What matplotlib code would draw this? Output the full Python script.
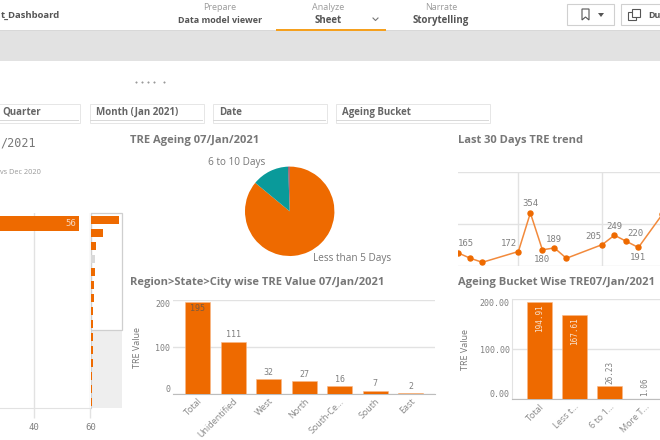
import matplotlib
matplotlib.use("Agg")
import matplotlib.pyplot as plt
from matplotlib.patches import Rectangle, Polygon

# ---------- data ----------
rank_values = [56, 23, 10, 8, 8, 6.6, 6, 3.3, 3.3, 3.3, 3, 3, 2.8, 2.6, 2.6]
rank_colors_gray_index = 3
rank_ticks = [40, 60]

pie_labels = ["Less than 5 Days", "6 to 10 Days", "More than 10 Days"]
pie_values = [167.61, 26.23, 1.06]

trend_days = [0, 1, 2, 5, 6, 7, 8, 9, 12, 13, 14, 15, 17]
trend_values = [165, 140, 121, 172, 354, 180, 189, 140, 205, 249, 220, 191, 348]
trend_labels = ["165", "", "", "172", "354", "180", "189", "", "205", "249", "220", "191", ""]

region_names = ["Total", "Unidentified", "West", "North", "South-Ce...", "South", "East"]
region_values = [195, 111, 32, 27, 16, 7, 2]

bucket_names = ["Total", "Less t...", "6 to 1...", "More T..."]
bucket_values = [194.91, 167.61, 26.23, 1.06]

# ---------- style ----------
W, H = 660, 440
ORANGE = "#ee6a00"
TITLE = "#777777"
TXT = "#808080"
GRID = "#e2e2e2"
SANS = "Open Sans"
MONO = "DejaVu Sans Mono"

fig = plt.figure(figsize=(W / 100, H / 100), dpi=100, facecolor="white")


def box(l, t, r, b):
    return fig.add_axes([l / W, 1 - b / H, (r - l) / W, (b - t) / H])


# chrome layer in pixel coordinates
ch = fig.add_axes([0, 0, 1, 1], zorder=-5)
ch.set_xlim(0, W)
ch.set_ylim(H, 0)
ch.axis("off")


def rect(x0, y0, x1, y1, fc="none", ec="none", lw=1):
    ch.add_patch(Rectangle((x0, y0), x1 - x0, y1 - y0, fc=fc, ec=ec, lw=lw))


def label(x, y, s, size=7, color=TXT, weight="normal", ha="left", family=SANS, **kw):
    ch.text(x, y, s, fontsize=size, color=color, fontweight=weight, ha=ha, va="center",
            family=family, **kw)


# header
rect(-2, 30.5, W + 2, 31.5, fc="#d8d8d8")
rect(-2, 31.5, W + 2, 61, fc="#e2e2e2")
rect(276, 29.5, 386, 31, fc="#f5a01e")
label(0.5, 15, "t_Dashboard", 6.8, "#555555", "bold")
for cx, top, bottom, sz in [(220, "Prepare", "Data model viewer", 6.5),
                            (328, "Analyze", "Sheet", 7),
                            (441, "Narrate", "Storytelling", 7)]:
    label(cx, 8, top, 6.5, "#9a9a9a", ha="center")
    label(cx, 20.5, bottom, sz, "#555555", "bold", ha="center")
ch.plot([373, 375.5, 378], [18, 20.5, 18], color="#777777", lw=0.8)
rect(566.5, 4.5, 613.5, 25.5, fc="white", ec="#d0d0d0", lw=0.8)
rect(620.5, 4.5, 664, 25.5, fc="white", ec="#d0d0d0", lw=0.8)
ch.add_patch(Polygon([(582, 9), (589, 9), (589, 20), (585.5, 17), (582, 20)], closed=True,
                     fc="white", ec="#555555", lw=0.8))
ch.add_patch(Polygon([(598, 13), (604, 13), (601, 17)], closed=True, fc="#555555", ec="none"))
rect(628, 12, 636, 20, fc="white", ec="#555555", lw=0.8)
rect(632, 9, 640, 17, fc="white", ec="#555555", lw=0.8)
label(648, 15, "Du", 6.5, "#555555", "bold")
ch.plot([136, 142, 148, 154, 164], [82] * 5, ls="none", marker="s", ms=0.5, color="#999999")

# filter boxes
for x0, x1, s in [(-5, 80, "Quarter"), (89, 204, "Month (Jan 2021)"),
                  (212, 327, "Date"), (335, 490, "Ageing Bucket")]:
    rect(x0 + 0.5, 104.5, x1 - 0.5, 123.5, fc="white", ec="#e6e6e6", lw=0.7)
    rect(x0 + 1, 120, x1 - 1, 121.5, fc="#d9d9d9")
    label(max(x0 + 7, 0), 112.5, s, 7, "#666666", "bold")

# titles
label(0, 143, "/2021", 8.5, "#777777", family=MONO)
label(0, 173, "vs Dec 2020", 5.3, "#999999")
label(130, 140.5, "TRE Ageing 07/Jan/2021", 8, TITLE, "bold")
label(458, 140.5, "Last 30 Days TRE trend", 8, TITLE, "bold")
label(130, 282.5, "Region>State>City wise TRE Value 07/Jan/2021", 8, TITLE, "bold")
label(458, 282.5, "Ageing Bucket Wise TRE07/Jan/2021", 8, TITLE, "bold")

# ---------- ranked bar chart ----------
ax = box(0, 212.7, 90.3, 408)
ax.patch.set_alpha(0)
ax.barh(range(len(rank_values)), rank_values, height=0.705, color=ORANGE, zorder=3)
ax.set_xlim(28.2, 60)
ax.set_ylim(8.5, -0.5)
ax.set_yticks([])
ax.set_xticks(rank_ticks)
ax.set_xticklabels([str(t) for t in rank_ticks], family=MONO, fontsize=6.5, color=TXT)
ax.tick_params(axis="x", length=7, color=GRID, width=1, pad=3.5)
ax.grid(axis="x", color=GRID, lw=1, zorder=0)
for s in ["top", "left", "right"]:
    ax.spines[s].set_visible(False)
ax.spines["bottom"].set_color(GRID)
ax.text(rank_values[0] - 1, 0, str(rank_values[0]), color="#f6d8c0", fontsize=6.5, family=MONO,
        ha="right", va="center", zorder=4)

# mini scroll chart
rect(91, 330, 121.5, 408, fc="#eeeeee")
rect(90.5, 213.5, 121.5, 330.5, fc="white", ec="#cfcfcf", lw=0.9)
ch.plot([90.5, 90.5], [213, 408], color="#cfcfcf", lw=0.8)
mini = box(91, 213.5, 121.5, 408.5)
mini.patch.set_alpha(0)
mini_colors = ["#d9d9d9" if i == rank_colors_gray_index else ORANGE for i in range(len(rank_values))]
mini.barh(range(len(rank_values)), rank_values, height=0.67, color=mini_colors)
mini.set_xlim(0, 60)
mini.set_ylim(14.5, -0.5)
mini.axis("off")

# ---------- pie ----------
pie = box(289.7 - 46, 211.3 - 46, 289.7 + 46, 211.3 + 46)
pie.pie(pie_values, startangle=90, counterclock=False, radius=44.7 / 46,
        colors=[ORANGE, "#0a9a9a", "#a23b4a"], wedgeprops={"lw": 0})
pie.set_xlim(-1, 1)
pie.set_ylim(-1, 1)
label(207.5, 162.5, pie_labels[1], 7.2, "#777777")
label(313, 259, pie_labels[0], 7.2, "#777777")
label(302, 236.7, f"{100 * pie_values[0] / sum(pie_values):.1f}%", 6.5, "#f8e2cf", ha="center", family=MONO)

# ---------- trend line ----------
tr = box(458, 171.7, 660, 265.7)
tr.patch.set_alpha(0)
tr.set_xlim(-0.03, 16.8)
tr.set_ylim(105, 549)
tr.plot(trend_days, trend_values, color="#f28a3c", lw=1.1, marker="o", ms=3.6,
        mfc=ORANGE, mec=ORANGE, clip_on=True)
tr.set_xticks([5, 12])
tr.set_yticks([105, 300, 549])
tr.grid(True, color=GRID, lw=1)
tr.tick_params(length=0, labelleft=False, labelbottom=False)
for s in tr.spines.values():
    s.set_visible(False)
offsets = {"165": (8, 9), "172": (-9, 8), "354": (0, 9), "180": (0, -10), "189": (0, 8),
           "205": (-9, 8), "249": (0, 9), "220": (9, 8), "191": (0, -10)}
for d, v, t in zip(trend_days, trend_values, trend_labels):
    if t:
        tr.annotate(t, (d, v), xytext=offsets[t], textcoords="offset pixels", ha="center", va="center",
                    fontsize=6.5, color=TXT, family=MONO, clip_on=False)


# ---------- bar charts ----------
def bars(rect_px, x0_px, step, width_px, names, values, ymax, ticks, ticklabels, left_spine):
    a = box(*rect_px)
    a.patch.set_alpha(0)
    l, t, r, b = rect_px
    a.set_xlim((l - x0_px) / step, (r - x0_px) / step)
    a.set_ylim(0, ymax)
    a.bar(range(len(values)), values, width=width_px / step, color=ORANGE, ec="#f8b888", lw=0.4, zorder=3)
    a.set_xticks(range(len(names)))
    a.set_xticklabels(names, rotation=45, ha="right", rotation_mode="anchor", fontsize=6.5, color="#888888",
                      family=SANS)
    a.set_yticks(ticks)
    a.set_yticklabels(ticklabels, family=MONO, fontsize=6, color=TXT)
    a.get_yticklabels()[0].set_va("bottom")
    a.get_yticklabels()[-1].set_va("top")
    a.tick_params(axis="x", length=0, pad=2)
    a.tick_params(axis="y", length=0, pad=2)
    a.grid(axis="y", color=GRID, lw=1, zorder=0)
    for s in ["right", "top"]:
        a.spines[s].set_visible(False)
    a.spines["left"].set_visible(left_spine)
    a.spines["left"].set_color(GRID)
    a.spines["bottom"].set_color("#bdbdbd")
    return a


reg = bars((173, 300, 435, 394), 197.5, 35.5, 25, region_names, region_values, 200,
           [0, 100, 200], ["0", "100", "200"], False)
for i, v in enumerate(region_values):
    if i == 0:
        reg.text(i, v - 3, str(v), ha="center", va="top", fontsize=6, color="#7a5a40", family=MONO, zorder=4)
    else:
        reg.text(i, v + 5, str(v), ha="center", va="bottom", fontsize=6, color=TXT, family=MONO, zorder=4)

buc = bars((512.3, 299.3, 660, 399.3), 539.3, 35.2, 24.5, bucket_names, bucket_values, 200,
           [0, 100, 200], ["0.00", "100.00", "200.00"], True)
for i, v in enumerate(bucket_values):
    if i < 2:
        buc.text(i, v - 4, f"{v:.2f}", ha="center", va="top", rotation=90, fontsize=5.5, color="#f8e2cf",
                 family=MONO, zorder=4)
    else:
        buc.text(i, v + 5, f"{v:.2f}", ha="center", va="bottom", rotation=90, fontsize=5.5, color=TXT,
                 family=MONO, zorder=4)

label(138, 347, "TRE Value", 6.5, "#777777", ha="center", rotation=90)
label(465.7, 350, "TRE Value", 6.5, "#777777", ha="center", rotation=90)

fig.savefig("out.png", dpi=100)
